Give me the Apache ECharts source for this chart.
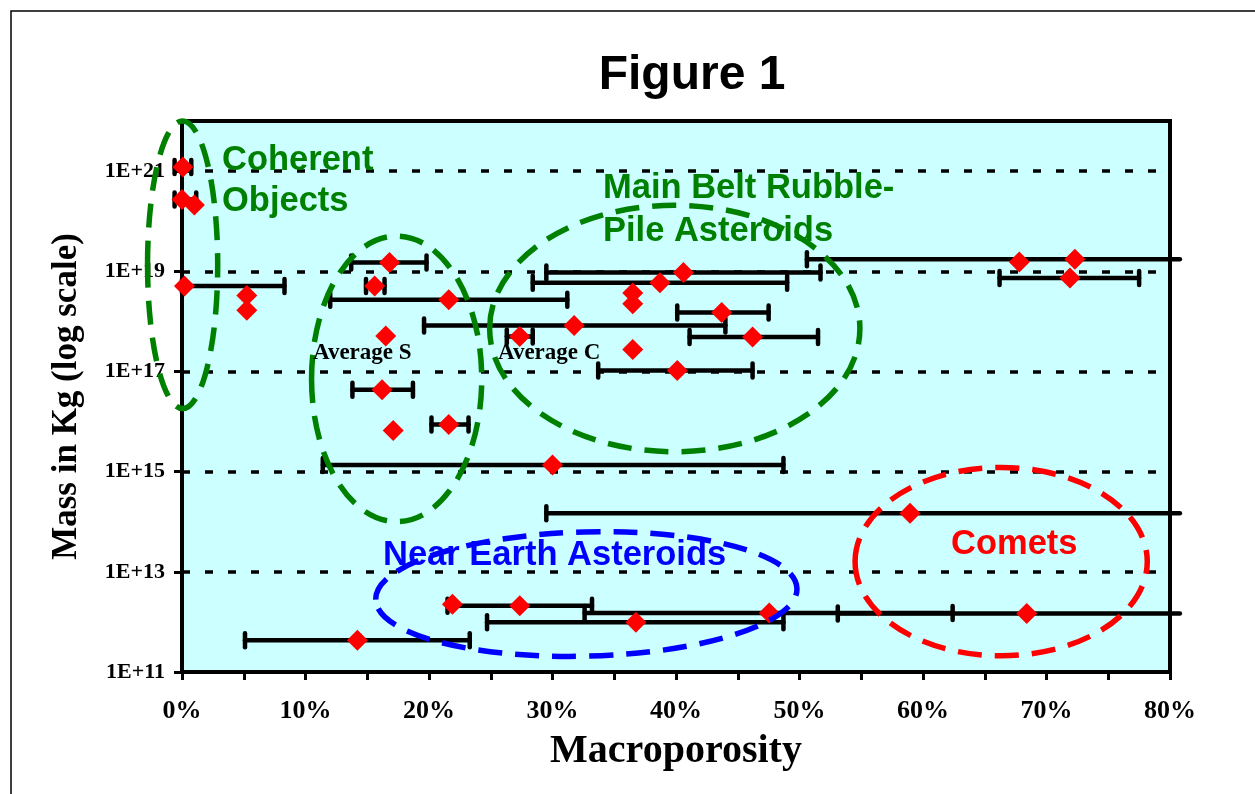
<!DOCTYPE html>
<html><head><meta charset="utf-8">
<script src="https://cdn.jsdelivr.net/npm/echarts@6/dist/echarts.min.js"></script>
<style>html,body{margin:0;padding:0;background:#fff;}#c{width:1255px;height:794px;}</style>
</head><body><div id="c"></div>
<script>
// ---- data (macroporosity in %, mass in kg) ----
const porosity = [0.07, 0.0, 1.0, 0.2, 5.25, 5.25, 16.8, 15.6, 21.6, 16.5,
  40.6, 38.7, 36.5, 36.5, 43.7, 31.75, 27.35, 46.2, 36.5, 40.1,
  67.8, 72.3, 71.9, 16.2, 17.1, 21.6, 30.0, 58.95, 21.9, 27.35,
  36.75, 14.2, 47.55, 68.4];
const mass = [1.2e21, 2.7e20, 2.1e20, 5.1e18, 3.3e18, 1.66e18, 1.5e19, 5.1e18, 2.7e18, 5.1e17,
  9.4e18, 5.9e18, 3.7e18, 2.25e18, 1.5e18, 8.3e17, 5.0e17, 4.9e17, 2.75e17, 1.05e17,
  1.54e19, 1.74e19, 7.3e18, 4.3e16, 6.6e15, 8.7e15, 1.35e15, 1.48e14, 2.25e12, 2.1e12,
  9.8e11, 4.3e11, 1.5e12, 1.47e12];
const errLow = [-0.6, -0.6, null, 0.0, null, null, 13.7, 14.9, 12.0, null,
  29.5, 28.4, null, null, 40.1, 19.6, 26.3, 41.1, null, 33.7,
  null, 50.6, 66.2, 13.8, null, 20.2, 11.4, 29.5, null, 21.5,
  24.7, 5.1, 32.6, 53.1];
const errHigh = [0.75, 1.15, null, 8.3, null, null, 19.8, 16.4, 31.2, null,
  51.7, 49.0, null, null, 47.5, 44.0, 28.4, 51.5, null, 46.2,
  null, 94.0, 77.5, 18.7, null, 23.2, 48.7, 88.4, null, 33.2,
  48.7, 23.3, 62.4, 83.7];
const xTicks = [0, 10, 20, 30, 40, 50, 60, 70, 80];
const yTicks = [1e11, 1e13, 1e15, 1e17, 1e19, 1e21];

// ---- annotated regions (centre %, centre kg, half-width %, half-height in decades) ----
const regionNames = ['Coherent', 'AverageS', 'MainBelt', 'NEA', 'Comets'];
const regionCx = [0.05, 17.38, 39.9, 32.74, 66.33];
const regionCm = [1.35e19, 7.1e16, 7.2e17, 3.6e12, 1.6e13];
const regionRx = [2.84, 6.89, 14.99, 17.06, 11.83];
const regionRy = [2.87, 2.85, 2.46, 1.24, 1.88];
const regionTilt = [0, 0, 0, 1.5, 0];
const regionColor = ['#008000', '#008000', '#008000', '#0000FF', '#FF0000'];

const chart = echarts.init(document.getElementById('c'), null, {renderer: 'canvas'});
const serif = 'Liberation Serif, Times New Roman, serif';
const sans = 'Liberation Sans, Arial, sans-serif';
const xClip = 80.8;

const points = porosity.map((p, i) => [p, mass[i]]);
const bars = [];
porosity.forEach((p, i) => { if (errLow[i] !== null) bars.push([errLow[i], errHigh[i], mass[i]]); });
const regions = regionCx.map((c, i) => [c, regionCm[i], regionRx[i], regionRy[i], i]);

const option = {
  animation: false,
  backgroundColor: '#ffffff',
  grid: {left: 182, top: 121, width: 988, height: 551, show: true,
    backgroundColor: '#CCFFFF', borderColor: '#000', borderWidth: 4, containLabel: false},
  xAxis: {
    type: 'value', min: 0, max: 80, interval: 5,
    axisLine: {show: true, onZero: false, lineStyle: {color: '#000', width: 4}},
    axisTick: {show: true, inside: false, length: 8, lineStyle: {color: '#000', width: 3}},
    axisLabel: {margin: 26, color: '#000', fontFamily: serif, fontWeight: 'bold', fontSize: 26,
      customValues: xTicks, formatter: v => Math.round(v) + '%'},
    splitLine: {show: false},
    name: 'Macroporosity', nameLocation: 'middle', nameGap: 60,
    nameTextStyle: {color: '#000', fontFamily: serif, fontWeight: 'bold', fontSize: 40}
  },
  yAxis: {
    type: 'log', logBase: 10, min: 1e11, max: 1e22,
    axisLine: {show: true, onZero: false, lineStyle: {color: '#000', width: 4}},
    axisTick: {show: true, inside: false, length: 8, customValues: yTicks, lineStyle: {color: '#000', width: 3}},
    axisLabel: {margin: 17, color: '#000', fontFamily: serif, fontWeight: 'bold', fontSize: 22,
      customValues: yTicks, formatter: v => '1E+' + Math.round(Math.log10(v))},
    splitLine: {show: true, lineStyle: {color: '#000', width: 3.5, type: [8, 15]}},
    name: 'Mass in Kg (log scale)', nameLocation: 'middle', nameGap: 98, nameRotate: 90,
    nameTextStyle: {color: '#000', fontFamily: serif, fontWeight: 'bold', fontSize: 35}
  },
  series: [
    {
      type: 'custom', name: 'errorbars', clip: false, z: 3,
      data: bars, encode: {x: [0, 1], y: 2},
      renderItem: function (params, api) {
        const lo = api.value(0), hi = api.value(1), m = api.value(2);
        const a = api.coord([lo, m]);
        const b = api.coord([Math.min(hi, xClip), m]);
        const st = {stroke: '#000', lineWidth: 4.5, lineCap: 'round'};
        const ch = [{type: 'line', shape: {x1: a[0], y1: a[1], x2: b[0], y2: b[1]}, style: st}];
        ch.push({type: 'line', shape: {x1: a[0], y1: a[1] - 7, x2: a[0], y2: a[1] + 7}, style: st});
        if (hi <= xClip) ch.push({type: 'line', shape: {x1: b[0], y1: b[1] - 7, x2: b[0], y2: b[1] + 7}, style: st});
        return {type: 'group', children: ch};
      }
    },
    {
      type: 'scatter', name: 'points', clip: false, z: 4,
      data: points, symbol: 'diamond', symbolSize: 21,
      itemStyle: {color: '#FF0000', opacity: 1}
    },
    {
      type: 'custom', name: 'regions', clip: false, z: 6, silent: true,
      data: regions, encode: {x: 0, y: 1},
      renderItem: function (params, api) {
        const cx = api.value(0), cm = api.value(1), rx = api.value(2), ry = api.value(3);
        const c = api.coord([cx, cm]);
        const r = api.coord([cx + rx, cm]);
        const t = api.coord([cx, cm * Math.pow(10, ry)]);
        return {type: 'ellipse', shape: {cx: c[0], cy: c[1], rx: r[0] - c[0], ry: c[1] - t[1]},
          rotation: regionTilt[params.dataIndex] * Math.PI / 180, originX: c[0], originY: c[1],
          style: {fill: 'none', stroke: regionColor[params.dataIndex], lineWidth: 5.5, lineDash: [24, 13]}};
      }
    }
  ],
  graphic: [
    {type: 'rect', z: 0, shape: {x: 11, y: 11, width: 1300, height: 900}, style: {fill: 'none', stroke: '#000', lineWidth: 1.5}},
    {type: 'text', z: 100, x: 692, y: 76, style: {text: 'Figure 1', font: 'bold 48px ' + sans, fill: '#000', align: 'center', verticalAlign: 'middle'}},
    {type: 'text', z: 100, x: 222, y: 160, style: {text: 'Coherent', font: 'bold 34.5px ' + sans, fill: '#008000', verticalAlign: 'middle'}},
    {type: 'text', z: 100, x: 222, y: 201, style: {text: 'Objects', font: 'bold 34.5px ' + sans, fill: '#008000', verticalAlign: 'middle'}},
    {type: 'text', z: 100, x: 603, y: 188, style: {text: 'Main Belt Rubble-', font: 'bold 34.5px ' + sans, fill: '#008000', verticalAlign: 'middle'}},
    {type: 'text', z: 100, x: 603, y: 231, style: {text: 'Pile Asteroids', font: 'bold 34.5px ' + sans, fill: '#008000', verticalAlign: 'middle'}},
    {type: 'text', z: 100, x: 313, y: 353, style: {text: 'Average S', font: 'bold 23px ' + serif, fill: '#000', verticalAlign: 'middle'}},
    {type: 'text', z: 100, x: 498, y: 353, style: {text: 'Average C', font: 'bold 23px ' + serif, fill: '#000', verticalAlign: 'middle'}},
    {type: 'text', z: 100, x: 383, y: 555, style: {text: 'Near Earth Asteroids', font: 'bold 34.5px ' + sans, fill: '#0000FF', verticalAlign: 'middle'}},
    {type: 'text', z: 100, x: 951, y: 544, style: {text: 'Comets', font: 'bold 34.5px ' + sans, fill: '#FF0000', verticalAlign: 'middle'}}
  ]
};
chart.setOption(option);
</script></body></html>
